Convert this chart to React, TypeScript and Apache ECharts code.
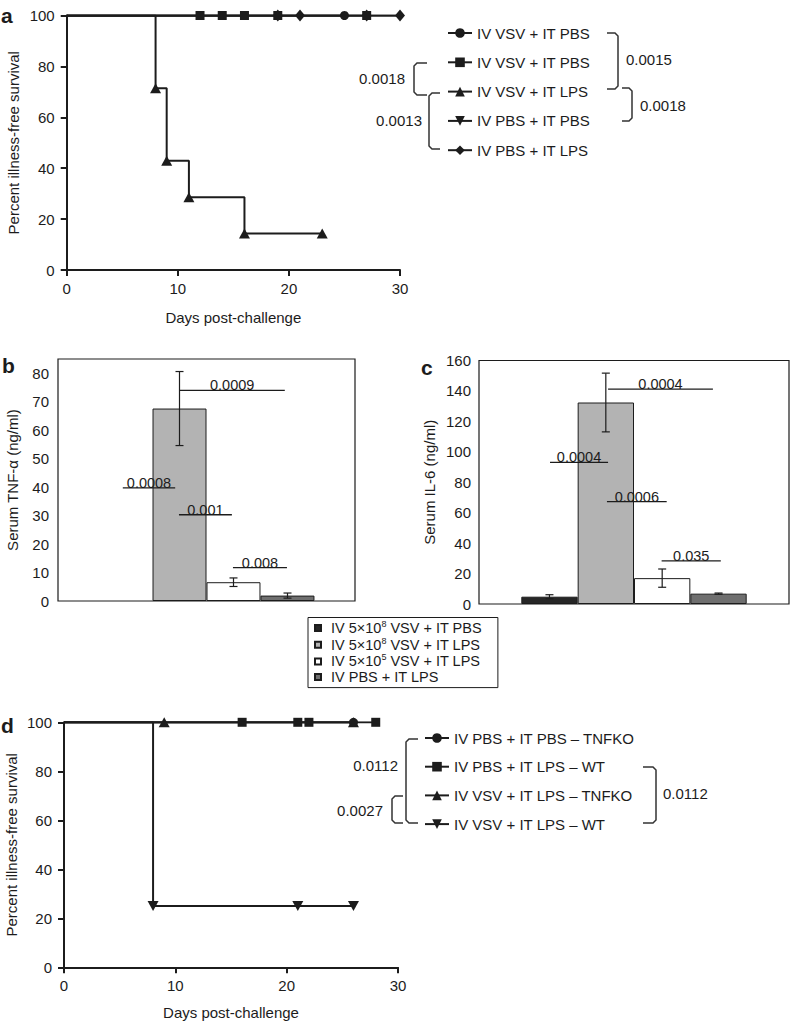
import { useEffect, useRef } from 'react';
import * as echarts from 'echarts';

const FONT = '"Liberation Sans", Arial, Helvetica, sans-serif';
const INK = '#1c1c1c';

// ---------- Panel a : survival ----------
const aNames = ['IV VSV + IT PBS', 'IV VSV + IT PBS ', 'IV VSV + IT LPS', 'IV PBS + IT PBS', 'IV PBS + IT LPS '];
const aSymbols = ['circle', 'rect', 'triangle', 'triangle', 'diamond'];
const aRotate = [0, 0, 0, 180, 0];
const aDays = [
  [0, 25],
  [0, 12, 14, 16, 19, 27],
  [0, 8, 9, 11, 16, 23],
  [0, 30],
  [0, 19, 21, 27, 30],
];
const aSurv = [
  [100, 100],
  [100, 100, 100, 100, 100, 100],
  [100, 71.4, 42.9, 28.6, 14.3, 14.3],
  [100, 100],
  [100, 100, 100, 100, 100],
];
const aMarked = [
  [0, 1],
  [0, 1, 1, 1, 1, 1],
  [0, 1, 1, 1, 1, 1],
  [0, 0],
  [0, 1, 1, 1, 1],
];

// ---------- Panels b / c : bars ----------
const barNames = ['IV 5×10^8 VSV + IT PBS', 'IV 5×10^8 VSV + IT LPS', 'IV 5×10^5 VSV + IT LPS', 'IV PBS + IT LPS'];
const barColors = ['#262626', '#b3b3b3', '#ffffff', '#6f6f6f'];
const tnfMean = [null, 67.6, 6.6, 1.9];
const tnfErr = [null, 13, 1.5, 0.9];
const il6Mean = [4.8, 132.4, 17, 6.8];
const il6Err = [1.3, 19.3, 6, 0.4];
const tnfTicks = [0, 10, 20, 30, 40, 50, 60, 70, 80];

const tnfSigLabels = ['0.0009', '0.0008', '0.001', '0.008'];
const tnfSigFrom = [1.5, 0.45, 1.49, 2.49];
const tnfSigTo = [3.45, 1.42, 2.47, 3.49];
const tnfSigY = [74, 39.7, 30.3, 11.7];

const il6SigLabels = ['0.0004', '0.0004', '0.0006', '0.035'];
const il6SigFrom = [1.54, 0.51, 1.52, 2.49];
const il6SigTo = [3.4, 1.54, 2.58, 3.54];
const il6SigY = [141.2, 93, 67.3, 28.3];

// ---------- Panel d : survival ----------
const dNames = ['IV PBS + IT PBS – TNFKO', 'IV PBS + IT LPS – WT', 'IV VSV + IT LPS – TNFKO', 'IV VSV + IT LPS – WT'];
const dSymbols = ['circle', 'rect', 'triangle', 'triangle'];
const dRotate = [0, 0, 0, 180];
const dDays = [
  [0, 26],
  [0, 16, 21, 22, 28],
  [0, 9, 26],
  [0, 8, 21, 26],
];
const dSurv = [
  [100, 100],
  [100, 100, 100, 100, 100],
  [100, 100, 100],
  [100, 25, 25, 25],
];
const dMarked = [
  [0, 1],
  [0, 1, 1, 1, 1],
  [0, 1, 1],
  [0, 1, 1, 1],
];

const symSize: Record<string, any> = {
  circle: 9,
  rect: 9,
  triangle: [11, 10],
  diamond: [10, 12],
};

function survSeries(names: string[], syms: string[], rots: number[], days: number[][], surv: number[][], marked: number[][], xi: number, yi: number) {
  return names.map((name, s) => ({
    type: 'line',
    name,
    xAxisIndex: xi,
    yAxisIndex: yi,
    step: 'end',
    symbol: syms[s],
    symbolSize: symSize[syms[s]],
    symbolRotate: rots[s],
    showSymbol: true,
    showAllSymbol: true,
    z: syms[s] === 'circle' ? 4 : 3,
    lineStyle: { color: INK, width: 2 },
    itemStyle: { color: INK },
    emphasis: { disabled: true },
    data: days[s].map((d, i) => ({ value: [d, surv[s][i]], symbol: marked[s][i] ? syms[s] : 'none' })),
  }));
}

const errRender = (params: any, api: any) => {
  const x = api.value(0);
  const lo = api.coord([x, api.value(1)]);
  const hi = api.coord([x, api.value(2)]);
  const c = 4;
  const st = { stroke: INK, lineWidth: 1.2 };
  return {
    type: 'group',
    children: [
      { type: 'line', shape: { x1: lo[0], y1: lo[1], x2: hi[0], y2: hi[1] }, style: st },
      { type: 'line', shape: { x1: lo[0] - c, y1: lo[1], x2: lo[0] + c, y2: lo[1] }, style: st },
      { type: 'line', shape: { x1: hi[0] - c, y1: hi[1], x2: hi[0] + c, y2: hi[1] }, style: st },
    ],
  };
};

const sigRender = (labels: string[]) => (params: any, api: any) => {
  const y = api.value(2);
  const p1 = api.coord([api.value(0), y]);
  const p2 = api.coord([api.value(1), y]);
  return {
    type: 'group',
    children: [
      { type: 'line', shape: { x1: p1[0], y1: p1[1], x2: p2[0], y2: p2[1] }, style: { stroke: INK, lineWidth: 1.3 } },
      {
        type: 'text',
        x: (p1[0] + p2[0]) / 2,
        y: p1[1] + 2.5,
        style: { text: labels[params.dataIndex], align: 'center', verticalAlign: 'bottom', fontSize: 14.5, fontFamily: FONT, fill: INK },
      },
    ],
  };
};

function errData(mean: (number | null)[], err: (number | null)[]) {
  const out: number[][] = [];
  mean.forEach((m, i) => {
    if (m != null && err[i] != null) out.push([i + 0.5, m - (err[i] as number), m + (err[i] as number)]);
  });
  return out;
}

function leftBracket(xv: number, y1: number, y2: number, hook: number) {
  return {
    type: 'polyline',
    shape: { points: [[xv + hook, y1], [xv + 3, y1], [xv, y1 + 3], [xv, y2 - 3], [xv + 3, y2], [xv + hook, y2]] },
    style: { stroke: '#333', lineWidth: 1.5, fill: 'none' },
  };
}
function rightBracket(xv: number, y1: number, y2: number, hook: number) {
  return {
    type: 'polyline',
    shape: { points: [[xv - hook, y1], [xv - 3, y1], [xv, y1 + 3], [xv, y2 - 3], [xv - 3, y2], [xv - hook, y2]] },
    style: { stroke: '#333', lineWidth: 1.5, fill: 'none' },
  };
}
function txt(text: string, x: number, y: number, align: string, size = 15, weight = 'normal') {
  return {
    type: 'text',
    x,
    y,
    style: { text, align, verticalAlign: 'middle', fontSize: size, fontWeight: weight, fontFamily: FONT, fill: INK },
  };
}

const survAxisX = (gi: number, gap: number) => ({
  gridIndex: gi,
  type: 'value',
  min: 0,
  max: 30,
  interval: 10,
  name: 'Days post-challenge',
  nameLocation: 'middle',
  nameGap: gap,
  nameTextStyle: { fontSize: 15, color: INK, fontFamily: FONT },
  axisLine: { show: true, lineStyle: { color: INK, width: 2 } },
  axisTick: { show: true, length: 6, lineStyle: { color: INK, width: 2 } },
  axisLabel: { fontSize: 15, color: INK, margin: 11, fontFamily: FONT },
  splitLine: { show: false },
});
const survAxisY = (gi: number, gap: number) => ({
  gridIndex: gi,
  type: 'value',
  min: 0,
  max: 100,
  interval: 20,
  name: 'Percent illness-free survival',
  nameLocation: 'middle',
  nameGap: gap,
  nameTextStyle: { fontSize: 15, color: INK, fontFamily: FONT },
  axisLine: { show: true, lineStyle: { color: INK, width: 2 } },
  axisTick: { show: true, length: 6, lineStyle: { color: INK, width: 2 } },
  axisLabel: { fontSize: 15, color: INK, margin: 12, fontFamily: FONT },
  splitLine: { show: false },
});

function buildOption() {
  const barLegendFormatter = (name: string) => {
    const m = name.match(/^(.*)\^(\d+)(.*)$/);
    if (!m) return `{g| }{t|${name}}`;
    return `{g| }{t|${m[1]}}{s|${m[2]}}{t|${m[3]}}`;
  };

  return {
    animation: false,
    textStyle: { fontFamily: FONT, color: INK },
    grid: [
      { left: 66.7, top: 15.5, width: 333.3, height: 254.5, outerBoundsMode: 'none' },
      { left: 58, top: 359, width: 297, height: 242, show: true, borderColor: INK, borderWidth: 1.2, backgroundColor: 'transparent', outerBoundsMode: 'none' },
      { left: 479, top: 360.5, width: 310, height: 243.5, show: true, borderColor: INK, borderWidth: 1.2, backgroundColor: 'transparent', outerBoundsMode: 'none' },
      { left: 64, top: 722.3, width: 334, height: 245, outerBoundsMode: 'none' },
    ],
    xAxis: [
      survAxisX(0, 40),
      { gridIndex: 1, type: 'category', data: [''], show: false },
      { gridIndex: 1, type: 'value', min: -0.75, max: 4.75, show: false },
      { gridIndex: 2, type: 'category', data: [''], show: false },
      { gridIndex: 2, type: 'value', min: -0.75, max: 4.75, show: false },
      survAxisX(3, 38),
    ],
    yAxis: [
      survAxisY(0, 46),
      {
        gridIndex: 1,
        type: 'value',
        min: 0,
        max: 85,
        interval: 10,
        name: 'Serum TNF-α (ng/ml)',
        nameLocation: 'middle',
        nameGap: 38,
        nameTextStyle: { fontSize: 15, color: INK, fontFamily: FONT },
        axisLine: { show: false },
        axisTick: { show: false },
        axisLabel: { fontSize: 15, color: INK, margin: 9, fontFamily: FONT, formatter: (v: number) => (tnfTicks.includes(v) ? String(v) : '') },
        splitLine: { show: false },
      },
      {
        gridIndex: 2,
        type: 'value',
        min: 0,
        max: 160,
        interval: 20,
        name: 'Serum IL-6 (ng/ml)',
        nameLocation: 'middle',
        nameGap: 42,
        nameTextStyle: { fontSize: 15, color: INK, fontFamily: FONT },
        axisLine: { show: false },
        axisTick: { show: false },
        axisLabel: { fontSize: 15, color: INK, margin: 8, fontFamily: FONT },
        splitLine: { show: false },
      },
      survAxisY(3, 45),
    ],
    legend: [
      {
        data: aNames,
        orient: 'vertical',
        left: 447,
        top: 25,
        padding: 0,
        itemWidth: 24,
        itemHeight: 12,
        itemGap: 13.3,
        selectedMode: false,
        textStyle: { fontSize: 15, lineHeight: 16, color: INK, fontFamily: FONT },
      },
      {
        data: barNames,
        orient: 'vertical',
        left: 308,
        top: 617.5,
        padding: [2, 16, 3, 6],
        icon: 'rect',
        itemWidth: 6,
        itemHeight: 6,
        itemGap: 0.7,
        borderColor: INK,
        borderWidth: 1,
        selectedMode: false,
        formatter: barLegendFormatter,
        textStyle: {
          color: INK,
          fontFamily: FONT,
          rich: {
            g: { width: 5, fontSize: 14.5, lineHeight: 17 },
            t: { fontSize: 14.5, lineHeight: 17, color: INK, fontFamily: FONT },
            s: { fontSize: 9, lineHeight: 11, verticalAlign: 'top', color: INK, fontFamily: FONT },
          },
        },
      },
      {
        data: dNames,
        orient: 'vertical',
        left: 424,
        top: 730,
        padding: 0,
        itemWidth: 24,
        itemHeight: 12,
        itemGap: 12.7,
        selectedMode: false,
        textStyle: { fontSize: 15, lineHeight: 16, color: INK, fontFamily: FONT },
      },
    ],
    graphic: [
      txt('a', 1, 15.6, 'left', 21, 'bold'),
      txt('b', 2, 365.6, 'left', 21, 'bold'),
      txt('c', 421, 367.6, 'left', 21, 'bold'),
      txt('d', 1, 725.6, 'left', 21, 'bold'),
      // panel a brackets
      rightBracket(618, 33, 89, 11),
      txt('0.0015', 626, 59, 'left'),
      rightBracket(632, 88, 121, 10),
      txt('0.0018', 640, 105, 'left'),
      leftBracket(414, 63, 95, 13),
      txt('0.0018', 405, 78, 'right'),
      leftBracket(429, 93, 149, 11),
      txt('0.0013', 422, 120, 'right'),
      // panel d brackets
      leftBracket(406, 739, 823, 12),
      txt('0.0112', 398, 765, 'right'),
      leftBracket(392, 796, 823, 11),
      txt('0.0027', 383, 810, 'right'),
      rightBracket(656, 767, 823, 13),
      txt('0.0112', 663, 793, 'left'),
    ],
    series: [
      ...survSeries(aNames, aSymbols, aRotate, aDays, aSurv, aMarked, 0, 0),
      ...barNames.map((name, i) => ({
        type: 'bar',
        name,
        xAxisIndex: 1,
        yAxisIndex: 1,
        barGap: '0%',
        barCategoryGap: '27.3%',
        itemStyle: { color: barColors[i], borderColor: INK, borderWidth: 1 },
        emphasis: { disabled: true },
        data: [tnfMean[i] == null ? '-' : tnfMean[i]],
      })),
      {
        type: 'custom',
        xAxisIndex: 2,
        yAxisIndex: 1,
        silent: true,
        z: 5,
        renderItem: errRender,
        data: errData(tnfMean, tnfErr),
      },
      {
        type: 'custom',
        xAxisIndex: 2,
        yAxisIndex: 1,
        silent: true,
        z: 5,
        renderItem: sigRender(tnfSigLabels),
        data: tnfSigLabels.map((_, i) => [tnfSigFrom[i], tnfSigTo[i], tnfSigY[i]]),
      },
      ...barNames.map((name, i) => ({
        type: 'bar',
        name,
        xAxisIndex: 3,
        yAxisIndex: 2,
        barGap: '0%',
        barCategoryGap: '27.3%',
        itemStyle: { color: barColors[i], borderColor: INK, borderWidth: 1 },
        emphasis: { disabled: true },
        data: [il6Mean[i]],
      })),
      {
        type: 'custom',
        xAxisIndex: 4,
        yAxisIndex: 2,
        silent: true,
        z: 5,
        renderItem: errRender,
        data: errData(il6Mean, il6Err),
      },
      {
        type: 'custom',
        xAxisIndex: 4,
        yAxisIndex: 2,
        silent: true,
        z: 5,
        renderItem: sigRender(il6SigLabels),
        data: il6SigLabels.map((_, i) => [il6SigFrom[i], il6SigTo[i], il6SigY[i]]),
      },
      ...survSeries(dNames, dSymbols, dRotate, dDays, dSurv, dMarked, 5, 3),
    ],
  };
}

export default function App() {
  const ref = useRef<HTMLDivElement>(null);
  useEffect(() => {
    document.body.style.margin = '0';
    const chart = echarts.init(ref.current as HTMLDivElement, null, { renderer: 'svg' });
    chart.setOption(buildOption() as any);
    return () => chart.dispose();
  }, []);
  return <div ref={ref} style={{ width: 792, height: 1022, background: '#fff' }} />;
}
